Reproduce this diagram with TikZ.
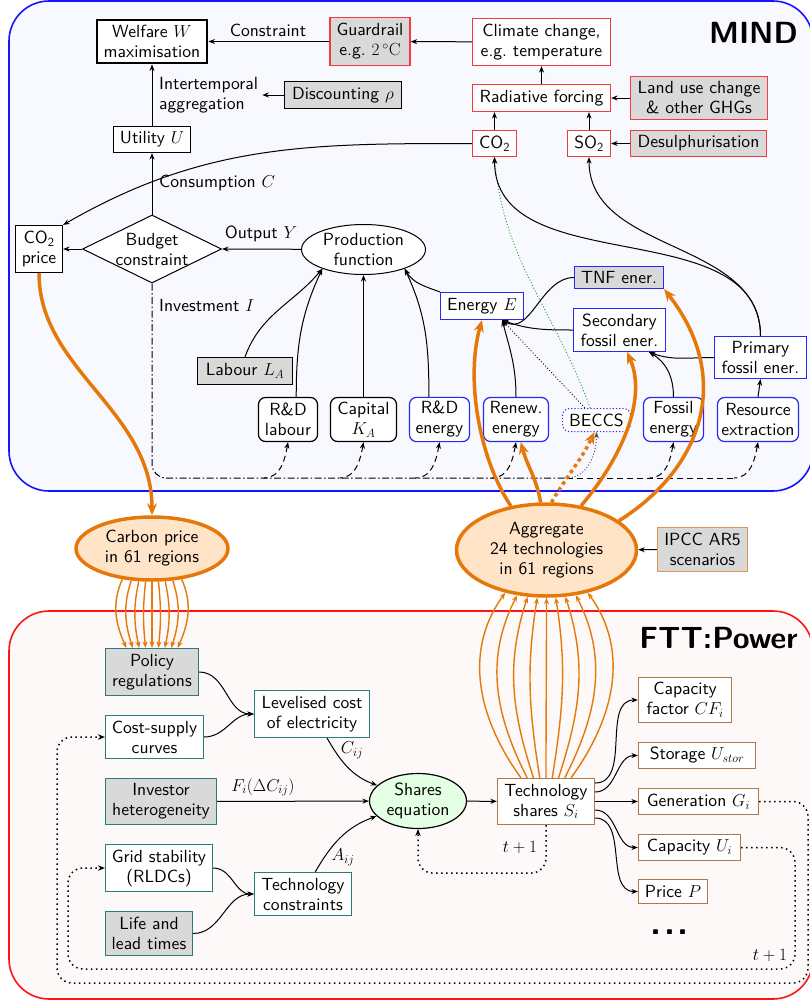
\documentclass[tikz,border=0pt]{standalone}
\usepackage{fontspec}
\setsansfont{lmsans10-regular.otf}[BoldFont=lmsans10-bold.otf, ItalicFont=lmsans10-oblique.otf]
\usetikzlibrary{arrows.meta,shapes.geometric,calc}
\newcommand{\myfs}{\sffamily\fontsize{17.6}{20}\selectfont}
\definecolor{myred}{RGB}{240,60,60}
\definecolor{myblue}{RGB}{40,40,240}
\definecolor{mygray}{RGB}{217,217,217}
\definecolor{myteal}{RGB}{40,125,125}
\definecolor{mybrown}{RGB}{175,120,70}
\definecolor{ipccc}{RGB}{220,150,80}
\definecolor{myorange}{RGB}{230,120,10}
\definecolor{peach}{RGB}{255,228,200}
\definecolor{mintfill}{RGB}{228,255,228}
\definecolor{mindbg}{RGB}{248,248,255}
\definecolor{fttbg}{RGB}{253,249,249}
\definecolor{framered}{RGB}{255,20,20}
\definecolor{frameblue}{RGB}{20,20,255}
\definecolor{mygreen}{RGB}{30,170,30}
\tikzset{
 nbox/.style={draw, line width=1.2pt, fill=white, inner sep=4pt, align=center},
 redb/.style={nbox, draw=myred},
 redg/.style={redb, fill=mygray},
 grayb/.style={nbox, fill=mygray},
 blueb/.style={nbox, draw=myblue},
 rblk/.style={nbox, rounded corners=7pt},
 rblue/.style={rblk, draw=myblue},
 tealb/.style={nbox, draw=myteal},
 tealg/.style={tealb, fill=mygray},
 brownb/.style={nbox, draw=mybrown},
 arr/.style={line width=1pt, -{Stealth[length=6.5pt,width=5pt]}},
 invarr/.style={line width=1pt, dash pattern=on 6pt off 4pt, {Stealth[length=6.5pt,width=5pt]}-},
 trunk/.style={line width=1pt, dash pattern=on 7pt off 2.5pt on 1.5pt off 2.5pt, rounded corners=14pt},
 invdot/.style={line width=0.9pt, gray!60!black, dash pattern=on 1pt off 2pt, {Stealth[length=6.5pt,width=5pt]}-},
 fanarr/.style={myorange, line width=1.4pt, -{Stealth[length=6.5pt,width=5pt]}},
 orthick/.style={myorange, line width=3.5pt, -{Stealth[length=12pt,width=10pt]}},
 dotarr/.style={line width=1.5pt, dash pattern=on 1.5pt off 3.5pt, -{Stealth[length=7pt,width=5.5pt]}, rounded corners=15pt},
}
\begin{document}
\begin{tikzpicture}[x=1pt,y=1pt, every node/.style={font=\myfs, text=black}]
\useasboundingbox (0,0) rectangle (810,-1001);
% frames
\draw[frameblue, line width=1.6pt, fill=mindbg, rounded corners=40pt] (9,-1) rectangle (813,-491);
\draw[framered, line width=1.6pt, fill=fttbg, rounded corners=40pt] (9,-611) rectangle (813,-999);
\node[font=\sffamily\bfseries\fontsize{30.6}{36}\selectfont] (mindt) at (753.5,-32.5) {MIND};
\node[font=\sffamily\bfseries\fontsize{30.6}{36}\selectfont] (fttt) at (718.5,-638) {FTT:Power};

% ---------- MIND nodes
\node[nbox, line width=2.8pt, minimum width=110pt, minimum height=43pt] (welfare) at (152,-41.5) {Welfare $W$\\maximisation};
\node[redg, minimum width=80pt, minimum height=48pt] (guard) at (370,-41.5) {Guardrail\\e.g.\ $2\,^{\circ}\mathrm{C}$};
\node[redb, minimum width=138pt, minimum height=47pt] (climate) at (541.5,-42) {Climate change,\\e.g.\ temperature};
\node[redb, minimum width=138pt, minimum height=27pt] (rad) at (541.5,-98) {Radiative forcing};
\node[redg, minimum width=137pt, minimum height=43pt] (landuse) at (699,-98) {Land use change\\\& other GHGs};
\node[redb, minimum width=44pt, minimum height=26pt] (co2) at (494.5,-143.5) {CO\textsubscript{2}};
\node[redb, minimum width=43pt, minimum height=26pt] (so2) at (589,-143.5) {SO\textsubscript{2}};
\node[redg, minimum width=136pt, minimum height=26pt] (desulph) at (698.5,-143.5) {Desulphurisation};
\node[grayb, minimum width=117pt, minimum height=27pt] (disc) at (343,-95) {Discounting $\rho$};
\node[anchor=west, align=left, inner sep=4pt] (interlab) at (155,-95) {Intertemporal\\aggregation};
\node[nbox, minimum width=77pt, minimum height=26pt] (utility) at (152,-139.5) {Utility $U$};
\node[anchor=west, inner sep=4pt] (conslab) at (155,-183) {Consumption $C$};
\node[diamond, draw, line width=1pt, fill=white, minimum width=139pt, minimum height=68pt, inner sep=0pt] (budget) at (152,-249) {};
\node[align=center] (budgetlab) at (budget.center) {Budget\\constraint};
\node[nbox, minimum width=47pt, minimum height=47pt] (co2p) at (39,-249) {CO\textsubscript{2}\\price};
\node[ellipse, draw, line width=1pt, fill=white, minimum width=124pt, minimum height=50pt, inner sep=0pt, align=center] (prod) at (363.5,-249.5) {Production\\function};
\node (outlab) at (261,-234) {Output $Y$};
\node[anchor=west, inner sep=4pt] (invlab) at (155,-305) {Investment $I$};
\node[grayb, minimum width=95pt, minimum height=27pt] (labour) at (245,-371) {Labour $L_A$};
\node[blueb, minimum width=83pt, minimum height=27pt] (energy) at (482,-306) {Energy $E$};
\node[blueb, fill=mygray, minimum width=89pt, minimum height=22pt] (tnf) at (619,-277.5) {TNF ener.};
\node[blueb, minimum width=92pt, minimum height=43pt] (sec) at (619.5,-330) {Secondary\\fossil ener.};
\node[blueb, minimum width=92pt, minimum height=42pt] (prim) at (760.5,-357.5) {Primary\\fossil ener.};
\node[rblk, minimum width=59pt, minimum height=44pt] (rdl) at (288,-419.5) {R\&D\\labour};
\node[rblk, minimum width=66pt, minimum height=44pt] (cap) at (363.5,-419.5) {Capital\\$K_A$};
\node[rblue, minimum width=60pt, minimum height=44pt] (rde) at (439.5,-419.5) {R\&D\\energy};
\node[rblue, minimum width=65pt, minimum height=44pt] (ren) at (516,-419.5) {Renew.\\energy};
\node[rblue, dash pattern=on 1.2pt off 2pt, line width=1pt, minimum width=68pt, minimum height=23pt] (beccs) at (596.5,-420) {BECCS};
\node[rblue, minimum width=60pt, minimum height=44pt] (fos) at (673.5,-419.5) {Fossil\\energy};
\node[rblue, minimum width=81pt, minimum height=44pt] (res) at (758,-419.5) {Resource\\extraction};

% ---------- MIND connectors
\draw[arr] (guard) -- (welfare);
\node (constrlab) at (268,-30) {Constraint};
\draw[arr] (climate) -- (guard);
\draw[arr] (rad) -- (climate);
\draw[arr] (landuse) -- (rad);
\draw[arr] (co2.north) -- (co2.north |- rad.south);
\draw[arr] (so2.north) -- (so2.north |- rad.south);
\draw[arr] (desulph) -- (so2);
\draw[arr] (disc) -- (interlab);
\draw[arr] (utility) -- (welfare);
\draw[arr] (budget.north) -- (utility);
\draw[arr] (budget) -- (co2p);
\draw[arr] (prod) -- (budget.east);
\draw[arr] (co2.west) to[out=180,in=30] (co2p.north east);
\draw[arr] (labour.north) to[out=70,in=-130] (prod.-155);
\draw[arr] (rdl.70) to[out=90,in=-115] (prod.-155);
\draw[arr] (cap.north) -- (cap.north |- prod.south);
\draw[arr] (rde.115) to[out=90,in=-65] (prod.-25);
\draw[arr] (energy.north west) to[out=160,in=-60] (prod.-25);
\draw[arr] (tnf.west) to[out=180,in=-30] (energy.-35);
\draw[arr] (sec.west) to[out=180,in=-20] (energy.-35);
\draw[arr] (ren.north) to[out=90,in=-75] (energy.-35);
\draw[arr, line width=0.8pt, dash pattern=on 1pt off 2pt] (beccs.134) -- (energy.-35);
\draw[mygreen, line width=0.9pt, dash pattern=on 1pt off 2pt, -{Stealth[length=6.5pt,width=5pt]}] (beccs.118) to[out=110,in=-85] (co2.south);
\draw[arr] (fos.north) to[out=90,in=-30] (sec.-37);
\draw[arr] (prim.west) to[out=180,in=-20] (sec.-37);
\draw[arr] (res.north) -- (prim.south);
\draw[arr] (prim.north) to[out=90,in=-90] (co2.south);
\draw[arr] (prim.north) to[out=90,in=-90] (so2.south);

% investment
\coordinate (invline) at (0,-478);
\coordinate (bb) at ($(beccs.south |- invline)+(-30,0)$);
\coordinate (rb) at ($(res.south |- invline)+(-24,0)$);
\draw[trunk] (budget.south) |- (bb);
\draw[line width=1pt, dash pattern=on 6pt off 4pt] (bb) -- (rb);
\foreach \n in {rdl,cap,rde,ren,fos,res}
  \draw[invarr] (\n.south) to[out=-100,in=0] ($(\n.south |- invline)+(-24,0)$);
\draw[invdot] (beccs.south) to[out=-90,in=0] (bb);

% ---------- coupling
\node[ellipse, draw=myorange, line width=3.5pt, fill=peach, minimum width=152pt, minimum height=63pt, inner sep=0pt, align=center] (carbon) at (152,-548.5) {Carbon price\\in 61 regions};
\node[ellipse, draw=myorange, line width=3.5pt, fill=peach, minimum width=180pt, minimum height=92pt, inner sep=0pt, align=center] (aggr) at (546.5,-550) {Aggregate\\24 technologies\\in 61 regions};
\node[nbox, fill=mygray, draw=ipccc, minimum width=90pt, minimum height=44pt] (ipcc) at (702.5,-549.5) {IPCC AR5\\scenarios};
\draw[arr] (ipcc) -- (aggr);

\draw[orthick] (co2p.south) .. controls (39,-370) and (152,-410) .. (carbon.north);
\draw[orthick] (aggr.129) .. controls (480,-460) and (465,-380) .. (energy.south);
\draw[orthick] (aggr.97) to[out=100,in=-75] (ren.-78);
\draw[orthick, dash pattern=on 3.5pt off 3.5pt] (aggr.84) to[out=60,in=-115] (beccs.-100);
\draw[orthick] (aggr.52) .. controls (620,-460) and (648,-400) .. (sec.-71);
\draw[orthick] (aggr.22) .. controls (700,-470) and (735,-380) .. (tnf.south east);

% ---------- FTT nodes
\node[tealg, minimum width=93pt, minimum height=47pt] (policy) at (152,-672) {Policy\\regulations};
\node[tealb, minimum width=98pt, minimum height=43pt] (cost) at (154.5,-737) {Cost-supply\\curves};
\node[tealb, minimum width=115pt, minimum height=47pt] (lcoe) at (312,-714) {Levelised cost\\of electricity};
\node[tealg, minimum width=111pt, minimum height=46pt] (inv) at (161,-801.5) {Investor\\heterogeneity};
\node[tealb, minimum width=107pt, minimum height=47pt] (grid) at (159,-868) {Grid stability\\(RLDCs)};
\node[tealg, minimum width=87pt, minimum height=44pt] (life) at (149,-933.5) {Life and\\lead times};
\node[tealb, minimum width=97pt, minimum height=43pt] (tcon) at (303,-894) {Technology\\constraints};
\node[ellipse, draw, line width=1.2pt, fill=mintfill, minimum width=97pt, minimum height=55pt, inner sep=0pt, align=center] (shares) at (418,-801) {Shares\\equation};
\node[brownb, minimum width=97pt, minimum height=46pt] (tech) at (546,-801.5) {Technology\\shares $S_i$};
\node[brownb, minimum width=93pt, minimum height=45pt] (cf) at (685,-700) {Capacity\\factor $CF_i$};
\node[brownb, minimum width=117pt, minimum height=26pt] (stor) at (697,-755.5) {Storage $U_{stor}$};
\node[brownb, minimum width=120pt, minimum height=26pt] (gen) at (698.5,-801.5) {Generation $G_i$};
\node[brownb, minimum width=102pt, minimum height=26pt] (capu) at (689.5,-847.5) {Capacity $U_i$};
\node[brownb, minimum width=69pt, minimum height=24pt] (price) at (673,-891.5) {Price $P$};
\node[font=\sffamily\bfseries\fontsize{36}{36}\selectfont, inner sep=0pt, anchor=base] (dots) at (670,-934) {.\kern2.5pt.\kern2.5pt.};
\node (cij) at (352,-750) {$C_{ij}$};
\node (aij) at (343,-857) {$A_{ij}$};
\node (fij) at (263,-787) {$F_i(\Delta C_{ij})$};
\node (tone) at (520,-847) {$t+1$};
\node (ttwo) at (770,-955) {$t+1$};

% fans
\foreach \sa/\oa/\ia/\dx in {226/246/114/-25.6, 237/252/108/-19.2, 248/258/102/-12.8, 259/264/96/-6.4, 270/270/90/0, 281/276/84/6.4, 292/282/78/12.8, 303/288/72/19.2, 314/294/66/25.6}
  \draw[fanarr] (carbon.\sa) to[out=\oa,in=\ia] ($(policy.north)+(\dx,0)$);
\foreach \sx/\oa/\ea/\ia in {-25/126/226/234, -18.75/117/237/243, -12.5/108/248/252, -6.25/99/259/261, 0/90/270/270, 6.25/81/281/279, 12.5/72/292/288, 18.75/63/303/297, 25/54/314/306}
  \draw[fanarr] ($(tech.north)+(\sx,0)$) to[out=\oa,in=\ia] (aggr.\ea);

% FTT connectors
\draw[arr] (policy.east) to[out=0,in=180] (lcoe.west);
\draw[arr] (cost.east) to[out=0,in=180] (lcoe.west);
\draw[arr] (lcoe.-58) to[out=-60,in=160] (shares.159);
\draw[arr] (inv) -- (shares);
\draw[arr] (grid.east) to[out=0,in=180] (tcon.west);
\draw[arr] (life.east) to[out=0,in=180] (tcon.west);
\draw[arr] (tcon.61) to[out=60,in=-160] (shares.-160);
\draw[arr] (shares) -- (tech);
\draw[arr] ([yshift=18.5pt]tech.east) to[out=0,in=180] (cf.west);
\draw[arr] ([yshift=9.5pt]tech.east) to[out=0,in=180] (stor.west);
\draw[arr] (tech.east) -- (gen.west);
\draw[arr] ([yshift=-8.5pt]tech.east) to[out=0,in=180] (capu.west);
\draw[arr] ([yshift=-16.5pt]tech.east) to[out=0,in=180] (price.west);

\draw[dotarr] (tech.south) -- ++(0,-48) -| (shares.south);
\draw[dotarr] (gen.east) -| (808,-983) -| (57,-737) -- (cost.west);
\draw[dotarr] (capu.east) -| (795,-969) -| (68,-868) -- (grid.west);
\end{tikzpicture}
\end{document}
